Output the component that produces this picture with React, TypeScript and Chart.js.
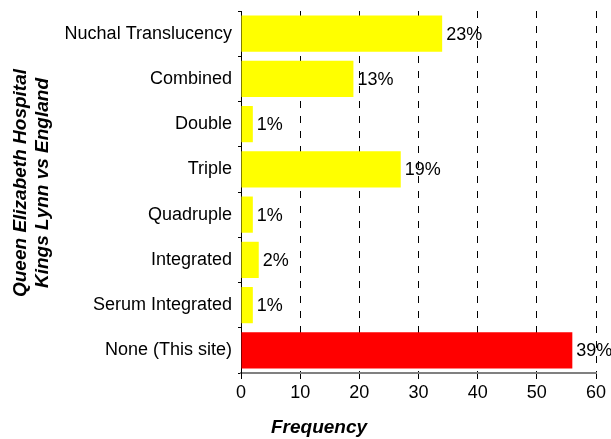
import React, { useEffect, useRef } from "react";
import { Chart, registerables } from "chart.js";

Chart.register(...registerables);

const categories = [
  "Nuchal Translucency",
  "Combined",
  "Double",
  "Triple",
  "Quadruple",
  "Integrated",
  "Serum Integrated",
  "None (This site)",
];
const frequencies = [34, 19, 2, 27, 2, 3, 2, 56];
const percentLabels = ["23%", "13%", "1%", "19%", "1%", "2%", "1%", "39%"];
const barColors = ["#FFFF00", "#FFFF00", "#FFFF00", "#FFFF00", "#FFFF00", "#FFFF00", "#FFFF00", "#FF0000"];
const xTitle = "Frequency";
const yTitleLines = ["Queen Elizabeth Hospital", "Kings Lynn vs England"];

const FONT = "'Liberation Sans', Arial, sans-serif";

const labelPlugin = {
  id: "pctLabels",
  beforeDraw(chart: any) {
    const ctx = chart.ctx;
    const meta = chart.getDatasetMeta(0);
    ctx.save();
    ctx.font = `18px ${FONT}`;
    ctx.fillStyle = "#000";
    ctx.textAlign = "left";
    ctx.textBaseline = "middle";
    meta.data.forEach((el: any, i: number) => {
      ctx.fillText(percentLabels[i], el.x + 4, el.y + 1);
    });
    ctx.restore();
  },
  afterDraw(chart: any) {
    const ctx = chart.ctx;
    ctx.save();
    ctx.fillStyle = "#000";
    ctx.font = `italic bold 19px ${FONT}`;
    ctx.textAlign = "center";
    ctx.textBaseline = "alphabetic";
    ctx.fillText(xTitle, 319, 433);
    const cy = 183;
    const baselines = [25.5, 48];
    yTitleLines.forEach((line, i) => {
      ctx.save();
      ctx.translate(baselines[i], cy);
      ctx.rotate(-Math.PI / 2);
      ctx.fillText(line, 0, 0);
      ctx.restore();
    });
    ctx.restore();
  },
};

export default function App() {
  const ref = useRef<HTMLCanvasElement>(null);
  useEffect(() => {
    if (!ref.current) return;
    const chart = new Chart(ref.current, {
      type: "bar",
      data: {
        labels: categories,
        datasets: [
          {
            data: frequencies,
            backgroundColor: barColors,
            borderWidth: 0,
            barPercentage: 0.8,
            categoryPercentage: 1,
          },
        ],
      },
      options: {
        indexAxis: "y",
        responsive: false,
        animation: false,
        devicePixelRatio: 1,
        layout: { padding: { top: 11, right: 15, left: 0, bottom: 0 } },
        plugins: { legend: { display: false }, tooltip: { enabled: false } },
        scales: {
          x: {
            min: 0,
            max: 60,
            ticks: { stepSize: 10, color: "#000", font: { family: FONT, size: 18 }, padding: 3 },
            grid: {
              color: "#000",
              lineWidth: 1,
              tickLength: 6,
              tickColor: "#000",
              tickBorderDash: [],
            },
            border: { color: "#808080", width: 2, dash: [7, 8] },
            afterFit(scale: any) {
              scale.height = 66;
            },
          } as any,
          y: {
            ticks: { color: "#000", font: { family: FONT, size: 18 }, padding: 6 },
            grid: { drawOnChartArea: false, tickLength: 3, color: "#000" },
            border: { color: "#000", width: 1 },
            afterFit(scale: any) {
              scale.width = 241;
              scale.paddingTop = 0;
              scale.paddingBottom = 0;
            },
          } as any,
        },
      },
      plugins: [labelPlugin],
    } as any);
    return () => chart.destroy();
  }, []);
  return (
    <div style={{ position: "absolute", left: 0, top: 0, width: 611, height: 439, background: "#fff" }}>
      <canvas ref={ref} width={611} height={439} />
    </div>
  );
}
